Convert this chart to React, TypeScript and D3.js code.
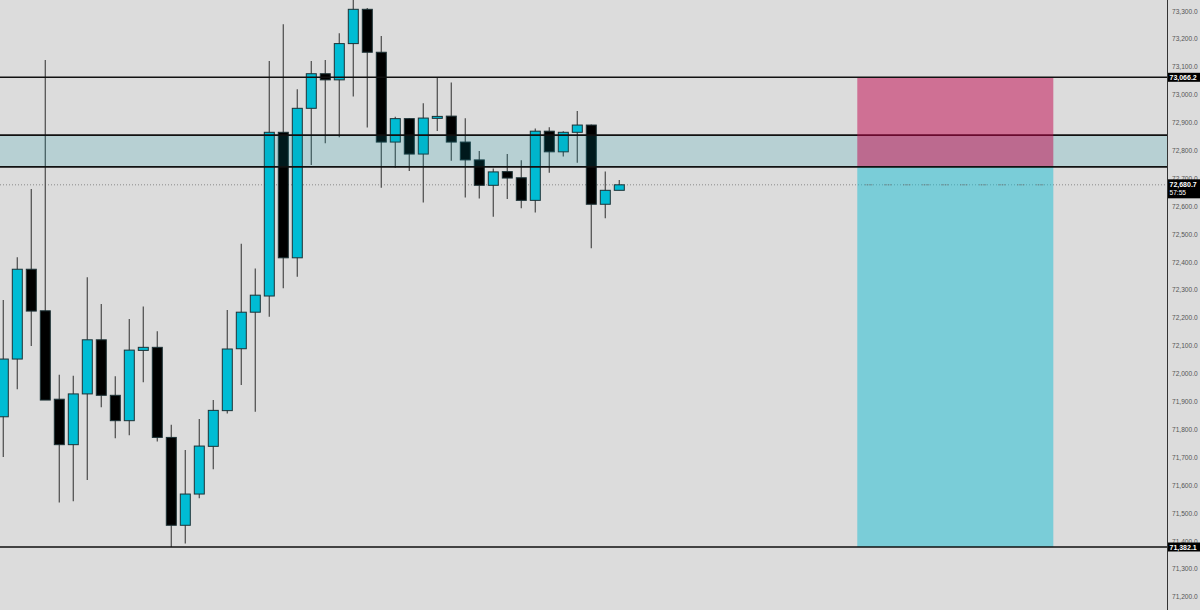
import React from "react";
import * as d3 from "d3";

const opens = [71849, 72056, 72378, 72229, 71912, 71749, 71931, 72125, 71926, 71835, 72087, 72098, 71775, 71460, 71572, 71743, 71871, 72093, 72224, 72282, 72869, 72419, 72955, 73079, 73057, 73187, 73310, 73156, 72834, 72918, 72791, 72919, 72927, 72834, 72770, 72679, 72728, 72706, 72625, 72873, 72799, 72869, 72895, 72611, 72661];
const highs = [72268, 72421, 72666, 73128, 72000, 71996, 72349, 72253, 71994, 72200, 72244, 72156, 71820, 71730, 71841, 71909, 72232, 72469, 72381, 73125, 73256, 73023, 73125, 73128, 73224, 73343, 73315, 73214, 72925, 72920, 72973, 73066, 73048, 72919, 72802, 72739, 72791, 72769, 72883, 72887, 72873, 72945, 72897, 72728, 72698];
const lows = [71705, 71948, 72103, 71909, 71542, 71546, 71622, 71883, 71772, 71783, 71973, 71760, 71382.1, 71395, 71557, 71661, 71861, 71963, 71867, 72208, 72310, 72351, 72752, 72830, 72851, 72997, 72886, 72670, 72742, 72730, 72617, 72874, 72767, 72635, 72632, 72566, 72630, 72597, 72581, 72724, 72782, 72760, 72453, 72561, 72661];
const closes = [72056, 72378, 72228, 71909, 71749, 71931, 72125, 71926, 71835, 72088, 72098, 71775, 71460, 71572, 71744, 71872, 72092, 72224, 72285, 72869, 72419, 72955, 73079, 73057, 73187, 73310, 73156, 72834, 72918, 72791, 72920, 72926, 72834, 72770, 72679, 72727, 72705, 72625, 72873, 72799, 72869, 72895, 72611, 72661, 72680.7];

const tickValues = [71200, 71300, 71400, 71500, 71600, 71700, 71800, 71900, 72000, 72100, 72200, 72300, 72400, 72500, 72600, 72700, 72800, 72900, 73000, 73100, 73200, 73300];

const levelHigh = 73066.2;
const levelLow = 71382.1;
const zoneTop = 72859;
const zoneBottom = 72745;
const currentPrice = 72680.7;
const countdown = "57:55";
const positionStart = 61;
const positionEnd = 75;

const W = 1200;
const H = 610;
const axisX = 1167;

export default function App() {
  const y = d3.scaleLinear().domain([levelLow, levelHigh]).range([547, 77.3]);
  const x = d3.scaleLinear().domain([0, 44]).range([3.3, 619.3]);
  const bodyW = 10;
  const fmt = d3.format(",.1f");

  const candles = opens.map((o, i) => ({ o, h: highs[i], l: lows[i], c: closes[i], i }));

  const dotSegs: number[] = [];
  for (let px = x(positionStart) + 8; px < x(positionEnd) - 6; px += 19) dotSegs.push(px);

  return (
    <svg width={W} height={H} style={{ position: "absolute", left: 0, top: 0, background: "#dcdcdc" }}>
      <rect x={0} y={0} width={W} height={H} fill="#dcdcdc" />
      <defs>
        <clipPath id="plot">
          <rect x={0} y={0} width={axisX} height={H} />
        </clipPath>
      </defs>
      <g clipPath="url(#plot)">
        {/* dotted current price line */}
        <line x1={0} x2={axisX} y1={y(currentPrice)} y2={y(currentPrice)} stroke="#8a8a8a" strokeWidth={1} strokeDasharray="1 2" />
        {/* candles */}
        {candles.map((d) => (
          <line key={"w" + d.i} x1={x(d.i)} x2={x(d.i)} y1={y(d.h)} y2={y(d.l)} stroke="#555" strokeWidth={1.3} />
        ))}
        {candles.map((d) => {
          const top = y(Math.max(d.o, d.c));
          const bot = y(Math.min(d.o, d.c));
          const bull = d.c >= d.o;
          return (
            <rect
              key={"b" + d.i}
              x={x(d.i) - bodyW / 2}
              y={top}
              width={bodyW}
              height={Math.max(bot - top, 1.5)}
              fill={bull ? "#00bcd4" : "#000"}
              stroke="#1d3236"
              strokeWidth={1}
            />
          );
        })}
        {/* zone band */}
        <rect x={0} y={y(zoneTop)} width={axisX} height={y(zoneBottom) - y(zoneTop)} fill="rgba(0,150,168,0.17)" />
        <line x1={0} x2={axisX} y1={y(zoneTop)} y2={y(zoneTop)} stroke="#111" strokeWidth={1.6} />
        {/* position boxes */}
        <rect x={x(positionStart)} y={y(levelHigh)} width={x(positionEnd) - x(positionStart)} height={y(zoneBottom) - y(levelHigh)} fill="rgba(194,4,76,0.5)" />
        <rect x={x(positionStart)} y={y(zoneBottom)} width={x(positionEnd) - x(positionStart)} height={y(levelLow) - y(zoneBottom)} fill="rgba(24,190,212,0.5)" />
        {dotSegs.map((px, k) => (
          <line key={"d" + k} x1={px} x2={px + 7} y1={y(currentPrice)} y2={y(currentPrice)} stroke="#707070" strokeWidth={1} strokeDasharray="1 1" />
        ))}
        {/* horizontal levels */}
        <line x1={0} x2={axisX} y1={y(zoneBottom)} y2={y(zoneBottom)} stroke="#111" strokeWidth={1.6} />
        <line x1={0} x2={axisX} y1={y(levelHigh)} y2={y(levelHigh)} stroke="#111" strokeWidth={1.6} />
        <line x1={0} x2={axisX} y1={y(levelLow)} y2={y(levelLow)} stroke="#111" strokeWidth={1.6} />
      </g>
      {/* price axis */}
      <line x1={axisX + 0.5} x2={axisX + 0.5} y1={0} y2={H} stroke="#333" strokeWidth={1} />
      {tickValues.map((v) => (
        <text key={v} x={1172} y={y(v) - 1} dominantBaseline="central" fontFamily="Liberation Sans, Arial, sans-serif" fontSize={6.6} fill="#555">
          {fmt(v)}
        </text>
      ))}
      {[levelHigh, levelLow].map((v) => (
        <g key={"lbl" + v}>
          <rect x={axisX + 1} y={y(v) - 4.5} width={W - axisX - 1} height={9} fill="#000" />
          <text x={1169.5} y={y(v) + 0.3} dominantBaseline="central" fontFamily="Liberation Sans, Arial, sans-serif" fontSize={7} fontWeight="bold" fill="#fff">
            {fmt(v)}
          </text>
        </g>
      ))}
      <g>
        <rect x={axisX + 1} y={y(currentPrice) - 5.5} width={W - axisX - 1} height={19} fill="#000" />
        <text x={1169.5} y={y(currentPrice) - 0.5} dominantBaseline="central" fontFamily="Liberation Sans, Arial, sans-serif" fontSize={7} fontWeight="bold" fill="#fff">
          {fmt(currentPrice)}
        </text>
        <text x={1169.5} y={y(currentPrice) + 8} dominantBaseline="central" fontFamily="Liberation Sans, Arial, sans-serif" fontSize={6.6} fill="#fff">
          {countdown}
        </text>
      </g>
    </svg>
  );
}
